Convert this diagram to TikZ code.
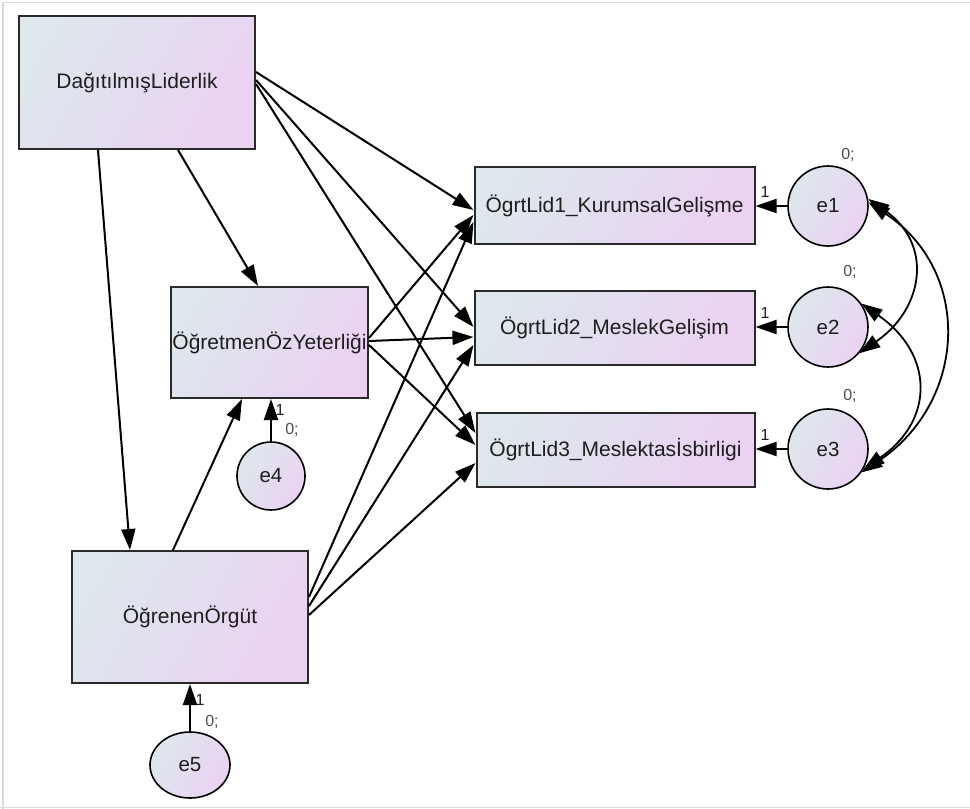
\documentclass[tikz,border=0pt]{standalone}
\usepackage{fontspec}
\setmainfont{Liberation Sans}
\usetikzlibrary{arrows.meta,shapes.geometric}
\definecolor{gA}{HTML}{DDE7EC}
\definecolor{gB}{HTML}{EBD2F3}
\definecolor{bord}{HTML}{2A2A2A}
\definecolor{txt}{HTML}{1E1E1E}
\definecolor{frame}{HTML}{DADADA}
\begin{document}
\begin{tikzpicture}[x=1pt,y=-1pt,
  shadefill/.style={top color=gA, bottom color=gB, shading angle=60},
  obsbox/.style={shadefill, draw=bord, line width=2pt, inner sep=0pt, text=txt,
    font=\fontsize{21}{25}\selectfont},
  errc/.style={shadefill, draw=black, line width=1.6pt, circle, inner sep=0pt,
    minimum size=80pt, text=txt, font=\fontsize{20.5}{24}\selectfont},
  reg/.style={-{Triangle[length=21pt,width=14pt]}, line width=2pt, black},
  cov/.style={{Triangle[length=21pt,width=14pt]}-{Triangle[length=21pt,width=14pt]}, line width=1.8pt, black},
  one/.style={font=\fontsize{16}{19}\selectfont, text=txt, inner sep=0pt},
  zero/.style={font=\fontsize{16}{19}\selectfont, text=black!70, inner sep=0pt}]
\useasboundingbox (0,0) rectangle (970,809);
\draw[frame, line width=1.5pt] (3,809) -- (3,2.5) -- (970,2.5);
\draw[frame, line width=1.5pt] (0,807.5) -- (970,807.5);

% observed / latent boxes
\node[obsbox, minimum width=236pt, minimum height=133pt] (DL) at (137,82.5) {DağıtılmışLiderlik};
\node[obsbox, minimum width=197pt, minimum height=111pt] (OY) at (269.5,342.5) {ÖğretmenÖzYeterliği};
\node[obsbox, minimum width=236pt, minimum height=132pt] (OO) at (190,617) {ÖğrenenÖrgüt};
\node[obsbox, minimum width=280pt, minimum height=77pt] (L1) at (614.5,205.5) {ÖgrtLid1\_KurumsalGelişme};
\node[obsbox, minimum width=280pt, minimum height=74pt] (L2) at (614.5,328) {ÖgrtLid2\_MeslekGelişim};
\node[obsbox, minimum width=278pt, minimum height=74pt] (L3) at (615.5,450) {ÖgrtLid3\_Meslektasİsbirligi};

% error terms
\node[errc] (e1) at (828,206) {e1};
\node[errc] (e2) at (828,327) {e2};
\node[errc] (e3) at (828,449) {e3};
\node[errc, minimum size=68pt] (e4) at (271,476) {e4};
\node[shadefill, draw=black, line width=1.6pt, ellipse, inner sep=0pt,
  minimum width=80pt, minimum height=66pt, text=txt, font=\fontsize{20.5}{24}\selectfont] (e5) at (190,765) {e5};

% regression paths
\draw[reg] ([xshift=-39pt]DL.south) -- ([xshift=-60pt]OO.north);
\draw[reg] ([xshift=41pt]DL.south) -- ([xshift=-11.5pt]OY.north);
\draw[reg] ([yshift=10.5pt]DL.east) -- ([yshift=-4.5pt]L1.west);
\draw[reg] ([yshift=2.5pt]DL.east) -- ([yshift=1pt]L2.west);
\draw[reg] ([yshift=-1.5pt]DL.east) -- ([yshift=17pt]L3.west);
\draw[reg] ([yshift=4.5pt]OY.east) -- ([yshift=-9.5pt]L1.west);
\draw[reg] ([yshift=1.5pt]OY.east) -- ([yshift=-9pt]L2.west);
\draw[reg] ([yshift=-2.5pt]OY.east) -- ([yshift=5pt]L3.west);
\draw[reg] ([yshift=20pt]OO.east) -- ([yshift=-16.5pt]L1.west);
\draw[reg] ([yshift=11pt]OO.east) -- ([yshift=-17pt]L2.west);
\draw[reg] ([yshift=2pt]OO.east) -- ([yshift=-13pt]L3.west);
\draw[reg] ([xshift=-17pt]OO.north) -- ([xshift=-27.5pt]OY.south);
\draw[reg] (e4.north) -- (e4.north |- OY.south);
\draw[reg] (e5.north) -- (e5.north |- OO.south);
\draw[reg] (e1.west) -- (e1.west -| L1.east);
\draw[reg] (e2.west) -- (e2.west -| L2.east);
\draw[reg] (e3.west) -- (e3.west -| L3.east);

% covariances
\draw[cov] (e1.10) .. controls +(65,45) and +(65,-45) .. (e2.-40);
\draw[cov] (e1.5) .. controls +(105,70) and +(105,-70) .. (e3.-35);
\draw[cov] (e2.35) .. controls +(72,50) and +(72,-50) .. (e3.-30);

% parameter labels
\node[one] (w1) at (765,192) {1};
\node[one] (w2) at (765,313) {1};
\node[one] (w3) at (765,435) {1};
\node[one] (w4) at (280,410) {1};
\node[one] (w5) at (200,700) {1};
\node[zero] (v1) at (848,155) {0;};
\node[zero] (v2) at (850,272) {0;};
\node[zero] (v3) at (850,396) {0;};
\node[zero] (v4) at (292,430) {0;};
\node[zero] (v5) at (212,722) {0;};
\end{tikzpicture}
\end{document}
